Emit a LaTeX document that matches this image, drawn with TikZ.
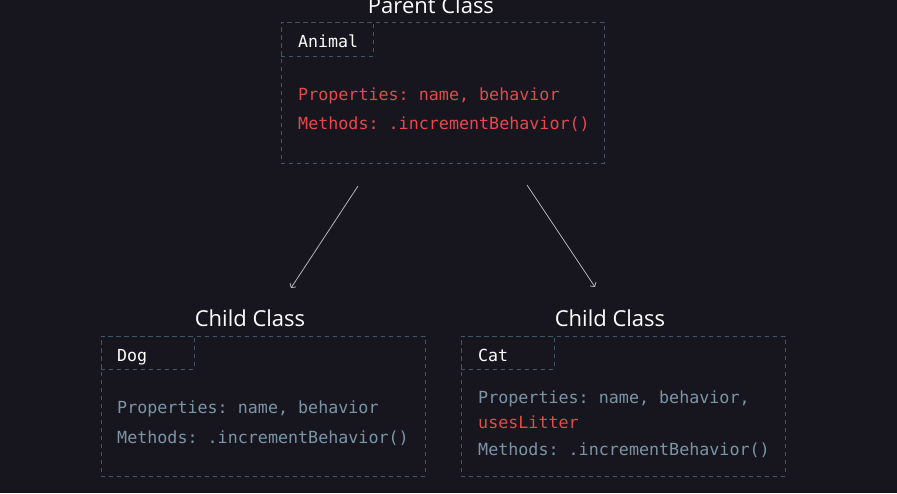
\documentclass[tikz,border=0pt]{standalone}
\usepackage{fontspec}
\setmainfont{Open Sans}
\setmonofont{DejaVu Sans Mono}
\usetikzlibrary{arrows.meta}
\definecolor{fond}{HTML}{17161E}
\definecolor{bord}{HTML}{3D5868}
\definecolor{rouge}{HTML}{E5484D}
\definecolor{gris}{HTML}{7B95A7}
\definecolor{fleche}{HTML}{B4B4BC}
\begin{document}
\begin{tikzpicture}[x=1pt,y=-1pt]
\tikzset{boite/.style={draw=bord, line width=0.9pt, dash pattern=on 4pt off 4pt, inner sep=0pt},
titre/.style={anchor=base, text=white, font=\fontsize{22}{26}\selectfont},
nomclasse/.style={anchor=base west, inner sep=0pt, text=white, font=\ttfamily\fontsize{16.6}{20}\selectfont},
membre/.style={anchor=base west, inner sep=0pt, font=\ttfamily\fontsize{16.7}{20}\selectfont},
lien/.style={draw=fleche, line width=0.8pt, -{Straight Barb[length=3pt,width=7pt]}}}
\fill[fond] (0,0) rectangle (897,493);
\useasboundingbox (0,0) rectangle (897,493);
\node[titre] (TP) at (431,13) {Parent Class};
\node[boite, minimum width=323pt, minimum height=141pt] (P) at (442.5,92.5) {};
\node[boite, minimum width=92pt, minimum height=34pt] (PT) at (327,39) {};
\node[nomclasse] (PN) at (298,47) {Animal};
\node[membre, text=rouge] (PP) at (298,100) {Properties: name, behavior};
\node[membre, text=rouge] (PM) at (298,129) {Methods: .incrementBehavior()};
\node[titre] (TD) at (250,326) {Child Class};
\node[boite, minimum width=324pt, minimum height=140pt] (D) at (263,406) {};
\node[boite, minimum width=93pt, minimum height=33pt] (DT) at (147.5,352.5) {};
\node[nomclasse] (DN) at (117,361) {Dog};
\node[membre, text=gris] (DP) at (117,413) {Properties: name, behavior};
\node[membre, text=gris] (DM) at (117,443) {Methods: .incrementBehavior()};
\node[titre] (TC) at (610,326) {Child Class};
\node[boite, minimum width=324pt, minimum height=140pt] (C) at (623,406) {};
\node[boite, minimum width=93pt, minimum height=33pt] (CT) at (507.5,352.5) {};
\node[nomclasse] (CN) at (478,361) {Cat};
\node[membre, text=gris] (CP) at (478,403) {Properties: name, behavior,};
\node[membre, text=rouge] (CL) at (478,428) {usesLitter};
\node[membre, text=gris] (CM) at (478,455) {Methods: .incrementBehavior()};
\coordinate (A1) at (358,186);
\coordinate (A2) at (291,288);
\coordinate (B1) at (527,185);
\coordinate (B2) at (595,287);
\draw[lien] (A1) -- (A2);
\draw[lien] (B1) -- (B2);
\end{tikzpicture}
\end{document}
